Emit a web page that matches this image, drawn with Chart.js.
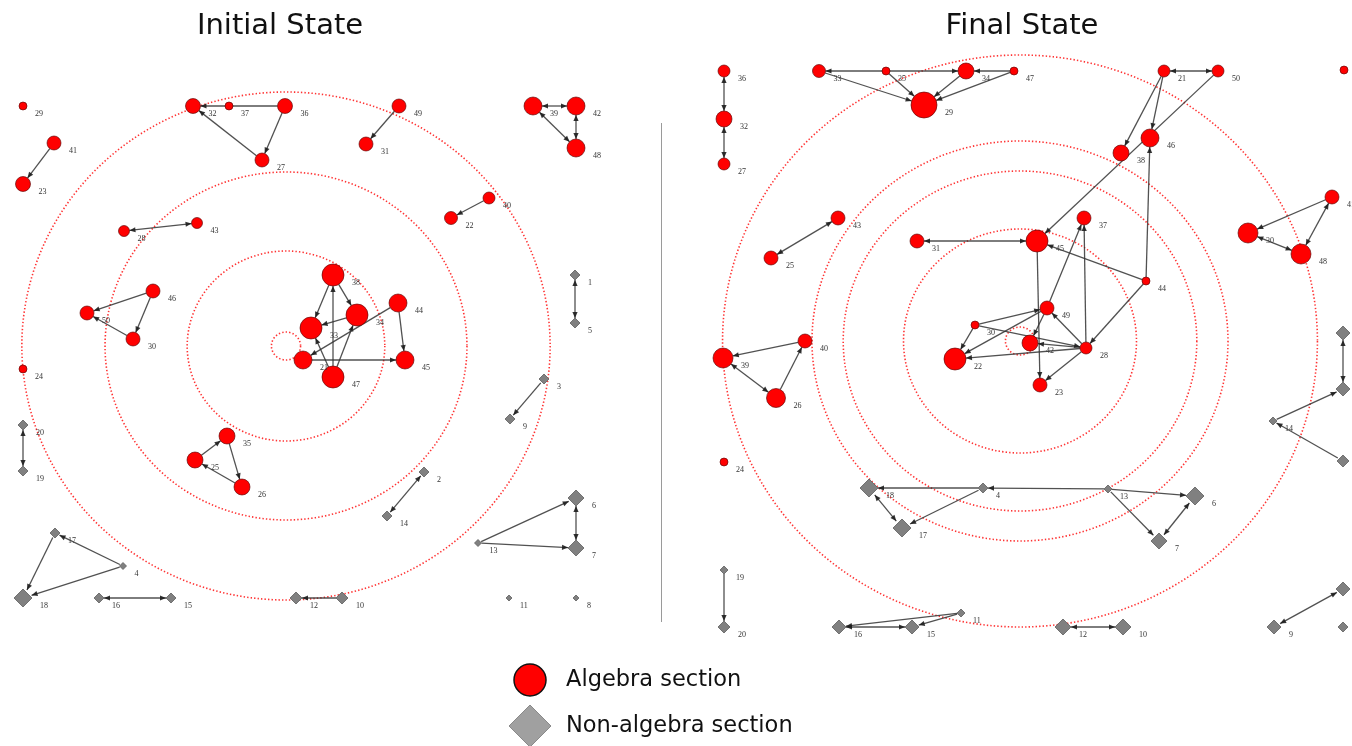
<!DOCTYPE html>
<html>
<head>
<meta charset="utf-8">
<title>Initial State / Final State</title>
<script src="https://cdn.jsdelivr.net/npm/chart.js@4.4.1/dist/chart.umd.min.js"></script>
<style>
    html, body { margin: 0; padding: 0; background: #fff; }
    #wrap { width: 1352px; height: 746px; position: relative; }
</style>
</head>
<body>
<div id="wrap"><canvas id="graphChart"></canvas></div>
<script>
// Node tables: [label, x, y, size]  (x/y in picture units, size = node weight)
const initialAlgebra = [
    ['29', 23, 106, 4], ['41', 54, 143, 7], ['23', 23, 184, 7.5],
    ['32', 193, 106, 7.5], ['37', 229, 106, 4], ['36', 285, 106, 7.5], ['27', 262, 160, 7],
    ['28', 124, 231, 5.5], ['43', 197, 223, 5.5],
    ['49', 399, 106, 7], ['31', 366, 144, 7],
    ['39', 533, 106, 9], ['42', 576, 106, 9], ['48', 576, 148, 9],
    ['40', 489, 198, 6], ['22', 451, 218, 6.5],
    ['46', 153, 291, 7], ['50', 87, 313, 7], ['30', 133, 339, 7],
    ['24', 23, 369, 4],
    ['38', 333, 275, 11], ['34', 357, 315, 11], ['33', 311, 328, 11], ['44', 398, 303, 9],
    ['21', 303, 360, 9], ['47', 333, 377, 11], ['45', 405, 360, 9],
    ['35', 227, 436, 8], ['25', 195, 460, 8], ['26', 242, 487, 8]
];
const initialOther = [
    ['1', 575, 275, 5], ['5', 575, 323, 5], ['3', 544, 379, 5], ['9', 510, 419, 5],
    ['20', 23, 425, 5], ['19', 23, 471, 5], ['2', 424, 472, 5], ['14', 387, 516, 5],
    ['6', 576, 498, 8], ['7', 576, 548, 8], ['13', 478, 543, 3.5],
    ['17', 55, 533, 5], ['4', 123, 566, 3.5], ['18', 23, 598, 9],
    ['16', 99, 598, 5], ['15', 171, 598, 5], ['12', 296, 598, 6], ['10', 342, 598, 6],
    ['11', 509, 598, 3], ['8', 576, 598, 3]
];
const finalAlgebra = [
    ['36', 724, 71, 6], ['32', 724, 119, 8], ['27', 724, 164, 6],
    ['33', 819, 71, 6.5], ['35', 886, 71, 4], ['34', 966, 71, 8], ['47', 1014, 71, 4], ['29', 924, 105, 13],
    ['21', 1164, 71, 6], ['50', 1218, 71, 6], ['41b', 1344, 70, 4],
    ['46', 1150, 138, 9], ['38', 1121, 153, 8], ['37', 1084, 218, 7], ['45', 1037, 241, 11],
    ['31', 917, 241, 7], ['43', 838, 218, 7], ['25', 771, 258, 7],
    ['44', 1146, 281, 4], ['49', 1047, 308, 7], ['30', 975, 325, 4], ['42', 1030, 343, 8],
    ['28', 1086, 348, 6], ['22', 955, 359, 11], ['23', 1040, 385, 7],
    ['39', 723, 358, 10], ['40', 805, 341, 7], ['26', 776, 398, 9.5], ['24', 724, 462, 4],
    ['41', 1332, 197, 7], ['30b', 1248, 233, 10], ['48', 1301, 254, 10]
];
const finalOther = [
    ['18', 869, 488, 9], ['4', 983, 488, 5], ['17', 902, 528, 9], ['13', 1108, 489, 4],
    ['6', 1195, 496, 9], ['7', 1159, 541, 8],
    ['19', 724, 570, 4], ['20', 724, 627, 6], ['16', 839, 627, 7], ['15', 912, 627, 7], ['11', 961, 613, 4],
    ['12', 1063, 627, 8], ['10', 1123, 627, 8], ['3', 1343, 589, 7], ['9', 1274, 627, 7], ['8', 1343, 627, 5],
    ['1', 1343, 333, 7], ['5', 1343, 389, 7], ['14', 1273, 421, 4], ['2', 1343, 461, 6]
];

// Edges: [from, to, bothWays]
const initialEdges = [
    ['41', '23'], ['36', '32'], ['36', '27'], ['27', '32'], ['28', '43', true],
    ['49', '31'], ['39', '42', true], ['42', '48', true], ['39', '48', true], ['40', '22'],
    ['46', '50'], ['30', '50'], ['46', '30'],
    ['38', '33'], ['38', '34'], ['47', '38'], ['34', '33'], ['47', '33'], ['47', '34'],
    ['44', '21'], ['44', '45'], ['21', '45'],
    ['25', '35'], ['26', '25'], ['35', '26'],
    ['1', '5', true], ['3', '9'], ['20', '19', true], ['2', '14', true],
    ['13', '6'], ['13', '7'], ['6', '7', true], ['4', '17'], ['17', '18'], ['4', '18'],
    ['16', '15', true], ['10', '12']
];
const finalEdges = [
    ['32', '36', true], ['32', '27', true],
    ['34', '33', true], ['47', '34'], ['33', '29'], ['35', '29'], ['34', '29'], ['47', '29'],
    ['21', '50', true], ['21', '38'], ['21', '46'], ['50', '45'],
    ['44', '46'], ['44', '45'], ['45', '31', true], ['43', '25', true],
    ['28', '37'], ['49', '37'], ['45', '23'], ['28', '23'], ['44', '28'], ['28', '49'],
    ['28', '42'], ['28', '22'], ['49', '22'], ['30', '49'], ['30', '22'], ['30', '28'], ['49', '42'],
    ['40', '39'], ['39', '26', true], ['26', '40'],
    ['41', '30b'], ['30b', '48', true], ['48', '41', true],
    ['4', '18'], ['13', '4'], ['18', '17', true], ['4', '17'], ['19', '20'],
    ['16', '15', true], ['11', '16'], ['11', '15'],
    ['13', '6'], ['13', '7'], ['7', '6', true], ['10', '12', true], ['3', '9', true],
    ['1', '5', true], ['14', '5'], ['2', '14']
];

// Concentric rings: centre and radii
const initialCenter = [286, 346];
const initialRings = [14, 95, 174, 254];
const finalCenter = [1020, 341];
const finalRings = [14, 112, 170, 200, 286];

const panelTitles = ['Initial State', 'Final State'];
const legendLabels = ['Algebra section', 'Non-algebra section'];

// Styles
const RED = '#ff0000';
const GREY = '#808080';
const EDGE = 'rgba(50,50,50,0.85)';
const ringStretch = 1.04;

function toPoints(nodes) {
    return nodes.map(n => ({ x: n[1], y: n[2], id: n[0], s: n[3] }));
}

function nodeDataset(nodes, algebra) {
    return {
        data: toPoints(nodes),
        pointStyle: algebra ? 'circle' : 'rectRot',
        pointRadius: ctx => ctx.raw ? ctx.raw.s : 4,
        pointHoverRadius: ctx => ctx.raw ? ctx.raw.s : 4,
        backgroundColor: algebra ? RED : GREY,
        borderColor: algebra ? 'rgba(90,0,0,0.8)' : '#5e5e5e',
        borderWidth: 0.8,
        clip: false
    };
}

const graphPlugin = {
    id: 'graphDecor',
    beforeDatasetsDraw(chart) {
        const ctx = chart.ctx;
        const xs = chart.scales.x;
        const ys = chart.scales.y;

        // Dotted rings
        function rings(center, radii) {
            const cx = xs.getPixelForValue(center[0]);
            const cy = ys.getPixelForValue(center[1]);
            radii.forEach(r => {
                const rx = xs.getPixelForValue(center[0] + r * ringStretch) - cx;
                const ry = Math.abs(ys.getPixelForValue(center[1] + r) - cy);
                ctx.save();
                ctx.beginPath();
                ctx.ellipse(cx, cy, rx, ry, 0, 0, Math.PI * 2);
                ctx.setLineDash([1.4, 2.1]);
                ctx.lineWidth = 1.6;
                ctx.strokeStyle = 'rgba(255,0,0,0.8)';
                ctx.stroke();
                ctx.restore();
            });
        }
        rings(initialCenter, initialRings);
        rings(finalCenter, finalRings);

        // Divider
        ctx.save();
        ctx.strokeStyle = '#9a9a9a';
        ctx.lineWidth = 1;
        ctx.beginPath();
        ctx.moveTo(xs.getPixelForValue(661) + 0.5, ys.getPixelForValue(123));
        ctx.lineTo(xs.getPixelForValue(661) + 0.5, ys.getPixelForValue(622));
        ctx.stroke();
        ctx.restore();

        // Edges with arrowheads
        function arrowHead(x, y, ang) {
            const len = 6, half = 2.6;
            ctx.beginPath();
            ctx.moveTo(x, y);
            ctx.lineTo(x - len * Math.cos(ang) + half * Math.sin(ang), y - len * Math.sin(ang) - half * Math.cos(ang));
            ctx.lineTo(x - len * Math.cos(ang) - half * Math.sin(ang), y - len * Math.sin(ang) + half * Math.cos(ang));
            ctx.closePath();
            ctx.fill();
        }
        function edges(list, nodeLists) {
            const lookup = {};
            nodeLists.forEach(l => l.forEach(n => { lookup[n[0]] = n; }));
            list.forEach(e => {
                const a = lookup[e[0]], b = lookup[e[1]];
                if (!a || !b) return;
                const ax = xs.getPixelForValue(a[1]), ay = ys.getPixelForValue(a[2]);
                const bx = xs.getPixelForValue(b[1]), by = ys.getPixelForValue(b[2]);
                const ang = Math.atan2(by - ay, bx - ax);
                const sx = ax + Math.cos(ang) * a[3], sy = ay + Math.sin(ang) * a[3];
                const ex = bx - Math.cos(ang) * b[3], ey = by - Math.sin(ang) * b[3];
                ctx.save();
                ctx.strokeStyle = EDGE;
                ctx.fillStyle = 'rgba(30,30,30,0.9)';
                ctx.lineWidth = 1.3;
                ctx.beginPath();
                ctx.moveTo(sx, sy);
                ctx.lineTo(ex, ey);
                ctx.stroke();
                arrowHead(ex, ey, ang);
                if (e[2]) arrowHead(sx, sy, ang + Math.PI);
                ctx.restore();
            });
        }
        edges(initialEdges, [initialAlgebra, initialOther]);
        edges(finalEdges, [finalAlgebra, finalOther]);
    },
    afterDatasetsDraw(chart) {
        const ctx = chart.ctx;
        const xs = chart.scales.x;
        const ys = chart.scales.y;

        // Node labels
        ctx.save();
        ctx.font = '8px "Liberation Serif", serif';
        ctx.fillStyle = '#333';
        ctx.textAlign = 'left';
        ctx.textBaseline = 'middle';
        [initialAlgebra, initialOther, finalAlgebra, finalOther].forEach(list => {
            list.forEach(n => {
                const px = xs.getPixelForValue(n[1]);
                const py = ys.getPixelForValue(n[2]);
                ctx.fillText(n[0].replace(/\D/g, ''), px + n[3] + 8, py + 8);
            });
        });
        ctx.restore();

        // Panel titles
        ctx.save();
        ctx.font = '29px "DejaVu Sans", sans-serif';
        ctx.fillStyle = '#111';
        ctx.textAlign = 'center';
        ctx.textBaseline = 'middle';
        ctx.fillText(panelTitles[0], 280, 26);
        ctx.fillText(panelTitles[1], 1022, 26);
        ctx.restore();

        // Legend
        ctx.save();
        ctx.beginPath();
        ctx.arc(530, 680, 16, 0, Math.PI * 2);
        ctx.fillStyle = RED;
        ctx.fill();
        ctx.lineWidth = 1.5;
        ctx.strokeStyle = '#111';
        ctx.stroke();

        ctx.beginPath();
        ctx.moveTo(509, 726);
        ctx.lineTo(530, 705);
        ctx.lineTo(551, 726);
        ctx.lineTo(530, 747);
        ctx.closePath();
        ctx.fillStyle = '#a0a0a0';
        ctx.fill();
        ctx.strokeStyle = '#8a8a8a';
        ctx.lineWidth = 1;
        ctx.stroke();

        ctx.font = '22.5px "DejaVu Sans", sans-serif';
        ctx.fillStyle = '#111';
        ctx.textAlign = 'left';
        ctx.textBaseline = 'middle';
        ctx.fillText(legendLabels[0], 566, 680);
        ctx.fillText(legendLabels[1], 566, 726);
        ctx.restore();
    }
};

document.addEventListener('DOMContentLoaded', function() {
    const ctx = document.getElementById('graphChart').getContext('2d');
    new Chart(ctx, {
        type: 'scatter',
        data: {
            datasets: [
                nodeDataset(initialAlgebra, true),
                nodeDataset(initialOther, false),
                nodeDataset(finalAlgebra, true),
                nodeDataset(finalOther, false)
            ]
        },
        options: {
            responsive: true,
            maintainAspectRatio: false,
            animation: false,
            layout: { padding: 0, autoPadding: false },
            scales: {
                x: { type: 'linear', min: 0, max: 1352, display: false },
                y: { type: 'linear', min: 0, max: 746, reverse: true, display: false }
            },
            plugins: {
                legend: { display: false },
                tooltip: { enabled: false }
            }
        },
        plugins: [graphPlugin]
    });
});
</script>
</body>
</html>
